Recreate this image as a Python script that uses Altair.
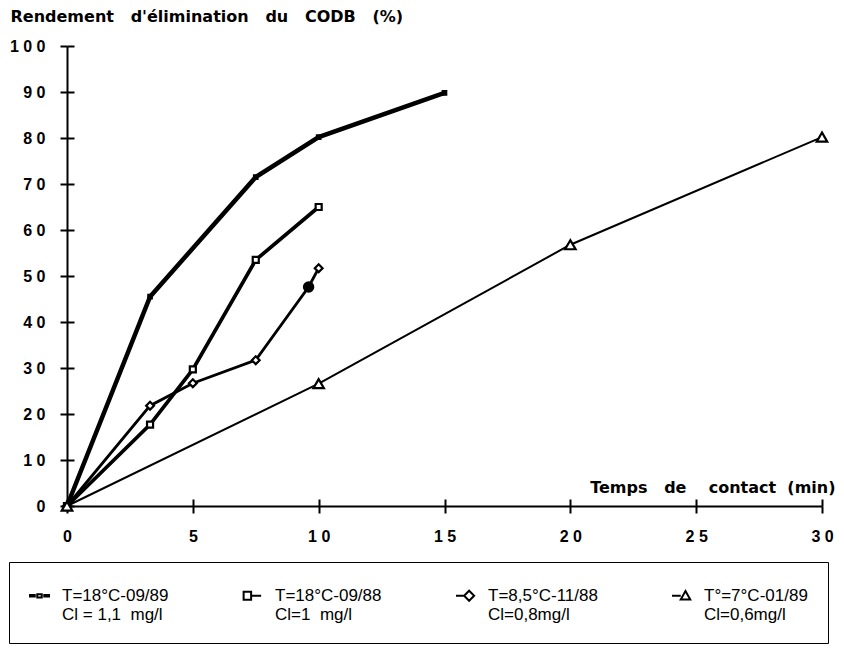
import altair as alt
import pandas as pd

# ---------------- data ----------------
series_names = ["T=18°C-09/89", "T=18°C-09/88", "T=8,5°C-11/88", "T°=7°C-01/89"]
series_conc = ["Cl = 1,1\u00a0\u00a0mg/l", "Cl=1\u00a0\u00a0mg/l", "Cl=0,8mg/l", "Cl=0,6mg/l"]

t_s1 = [0, 3.3, 7.5, 10, 15]
y_s1 = [0, 45.5, 71.5, 80.2, 89.8]
m_s1 = ["small", "small", "small", "small", "small"]

t_s2 = [0, 3.3, 5, 7.5, 10]
y_s2 = [0, 17.7, 29.7, 53.5, 65.0]
m_s2 = ["square", "square", "square", "square", "square"]

t_s3 = [0, 3.3, 5, 7.5, 9.6, 10]
y_s3 = [0, 21.8, 26.7, 31.7, 47.6, 51.7]
m_s3 = ["diamond", "diamond", "diamond", "diamond", "dot", "diamond"]

t_s4 = [0, 10, 20, 30]
y_s4 = [0, 26.6, 56.8, 80.2]
m_s4 = ["triangle", "triangle", "triangle", "triangle"]

x_ticks = [0, 5, 10, 15, 20, 25, 30]
y_ticks = [0, 10, 20, 30, 40, 50, 60, 70, 80, 90, 100]

y_title = "\u00a0\u00a0\u00a0".join(["Rendement", "d'élimination", "du", "CODB", "(%)"])
x_title = "Temps\u00a0\u00a0\u00a0de\u00a0\u00a0\u00a0\u00a0contact\u00a0\u00a0(min)"

# ---------------- table ----------------
labels = [f"{n}|{c}" for n, c in zip(series_names, series_conc)]
rows = []
for lab, ts, ys, ms in zip(labels, [t_s1, t_s2, t_s3, t_s4], [y_s1, y_s2, y_s3, y_s4],
                           [m_s1, m_s2, m_s3, m_s4]):
    for i, (t, y, m) in enumerate(zip(ts, ys, ms)):
        rows.append({"series": lab, "t": t, "y": y, "mk": m, "idx": i})
df = pd.DataFrame(rows)

# ---------------- styling ----------------
FONT_NUM = "Liberation Sans"
FONT_TITLE = "DejaVu Sans"
W, H = 755, 460

xs = alt.Scale(domain=[0, 30], nice=False, zero=False)
ys = alt.Scale(domain=[0, 100], nice=False, zero=False)
spaced = "join(split(datum.label, ''), ' ')"

axis_common = dict(domainColor="black", tickColor="black", tickWidth=2, tickSize=7,
                   grid=False, labelColor="black", labelFont=FONT_NUM,
                   labelFontWeight="bold", labelFontSize=16, labelOverlap=False,
                   labelFlush=False, labelExpr=spaced)

axis_x_main = alt.Axis(orient="bottom", values=x_ticks, domainWidth=2, labelPadding=15,
                       title=x_title, titleFont=FONT_TITLE, titleFontSize=16,
                       titleFontWeight="bold", titleColor="black", titleAngle=0,
                       titleAlign="right", titleBaseline="middle", titleX=768, titleY=-19,
                       **axis_common)
axis_y_main = alt.Axis(orient="left", values=y_ticks, domainWidth=2, labelPadding=15,
                       title=y_title, titleFont=FONT_TITLE, titleFontSize=16,
                       titleFontWeight="bold", titleColor="black", titleAngle=0,
                       titleAlign="left", titleBaseline="middle", titleX=-57, titleY=-30,
                       **axis_common)
# companion axes drawn on the same lines so that every tick crosses the axis
axis_x_in = alt.Axis(orient="top", offset=-H, values=x_ticks, domain=False, labels=False,
                     title=None, tickColor="black", tickWidth=2, tickSize=7, grid=False)
axis_y_in = alt.Axis(orient="right", offset=-W, values=y_ticks, domain=False, labels=False,
                     title=None, tickColor="black", tickWidth=2, tickSize=7, grid=False)

mk_domain = ["small", "square", "diamond", "dot", "triangle"]
mk_shape = ["square", "square", "diamond", "circle", "triangle-up"]
mk_size = [12, 110, 170, 25, 150]
mk_fill = ["black", "white", "white", "black", "white"]

legend_paths = [
    "M-1,-0.06H-0.62V0.06H-1Z M-0.42,-0.13H-0.06V0.13H-0.42Z M0.14,-0.06H0.52V0.06H0.14Z",
    "M-0.95,-0.32H-0.35V0.32H-0.95Z M-0.35,0H0.45",
    "M-1,0H-0.35 M-0.35,0L0.05,-0.4L0.45,0L0.05,0.4Z",
    "M-1,0H-0.3 M-0.3,0.3L0.08,-0.38L0.46,0.3Z",
]

base = alt.Chart(df)

lines = base.mark_line(color="black", strokeCap="butt").encode(
    x=alt.X("t:Q", scale=xs, axis=axis_x_main),
    y=alt.Y("y:Q", scale=ys, axis=axis_y_main),
    detail="series:N",
    order="idx:Q",
    strokeWidth=alt.StrokeWidth("series:N", scale=alt.Scale(domain=labels, range=[4.5, 2, 2, 2]),
                                legend=None),
)

points = base.mark_point(filled=True, stroke="black", strokeWidth=2.2, opacity=1).encode(
    x=alt.X("t:Q", scale=xs, axis=axis_x_in),
    y=alt.Y("y:Q", scale=ys, axis=axis_y_in),
    shape=alt.Shape("mk:N", scale=alt.Scale(domain=mk_domain, range=mk_shape), legend=None),
    size=alt.Size("mk:N", scale=alt.Scale(domain=mk_domain, range=mk_size), legend=None),
    fill=alt.Fill("mk:N", scale=alt.Scale(domain=mk_domain, range=mk_fill), legend=None),
)

legend_layer = base.transform_filter("false").mark_point(
    filled=False, color="black", strokeWidth=2, opacity=1
).encode(
    x=alt.X("t:Q", scale=xs, axis=None),
    y=alt.Y("y:Q", scale=ys, axis=None),
    shape=alt.Shape(
        "series:N",
        scale=alt.Scale(domain=labels, range=legend_paths),
        legend=alt.Legend(
            title=None, orient="none", legendX=-58, legendY=516, direction="horizontal",
            columns=4, columnPadding=70, rowPadding=0, padding=20,
            strokeColor="black", fillColor="white",
            symbolSize=625, symbolStrokeColor="black", symbolStrokeWidth=2,
            symbolOpacity=1, labelFont="Liberation Sans Narrow, Liberation Sans, sans-serif",
            labelFontSize=17, labelColor="black", labelLimit=0, labelOffset=6,
            labelExpr="split(datum.label, '|')",
        ),
    ),
)

chart = (
    alt.layer(lines, points, legend_layer)
    .resolve_axis(x="independent", y="independent")
    .resolve_scale(shape="independent", size="independent")
    .properties(width=W, height=H, background="white",
                autosize=alt.AutoSizeParams(type="none"),
                padding={"left": 59, "top": 38, "right": 14, "bottom": 140})
    .configure_view(stroke=None)
)

chart.save("out.html", embed_options={"renderer": "svg", "actions": False})
